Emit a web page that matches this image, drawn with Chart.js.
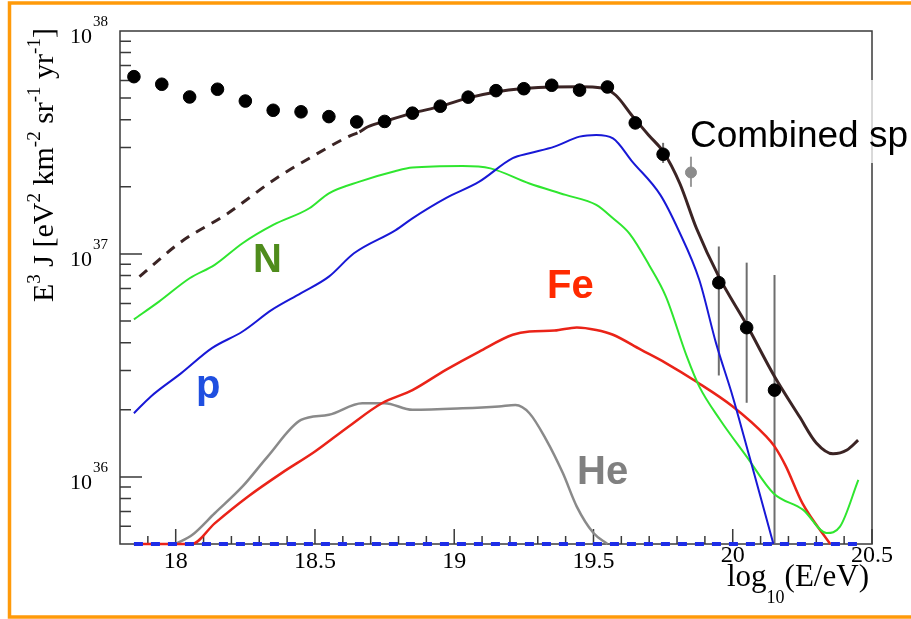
<!DOCTYPE html>
<html>
<head>
<meta charset="utf-8">
<script src="https://cdn.jsdelivr.net/npm/chart.js@4.4.1/dist/chart.umd.min.js"></script>
<style>
  html, body { margin: 0; padding: 0; background: #fff; }
  #wrap { width: 911px; height: 619px; position: relative; }
</style>
</head>
<body>
<div id="wrap"><canvas id="spectrumChart"></canvas></div>
<script>
// Auger data points (E^3 J)
const dotX = [17.85, 17.95, 18.05, 18.15, 18.25, 18.35, 18.45, 18.55, 18.65, 18.75,
              18.85, 18.95, 19.05, 19.15, 19.25, 19.35, 19.45, 19.55, 19.65, 19.75,
              19.95, 20.05, 20.15];
const dotY = [6.24e37, 5.77e37, 5.06e37, 5.48e37, 4.85e37, 4.41e37, 4.34e37, 4.13e37, 3.91e37, 3.93e37,
              4.28e37, 4.60e37, 5.05e37, 5.40e37, 5.51e37, 5.71e37, 5.43e37, 5.61e37, 3.87e37, 2.80e37,
              7.43e36, 4.67e36, 2.45e36];
// visible error bars
const errX  = [19.75, 19.95, 20.05, 20.15];
const errLo = [2.56e37, 2.85e36, 2.15e36, 1e35];
const errHi = [3.15e37, 1.08e37, 9.14e36, 8.05e36];
// grey point
const greyX = [19.85];
const greyY = [2.32e37];
const greyLo = [2.00e37];
const greyHi = [2.73e37];

// combined fit
const combX = [17.87, 18.02, 18.18, 18.36, 18.50, 18.62, 18.66, 18.69, 18.75, 18.85, 18.95, 19.05,
               19.15, 19.25, 19.35, 19.45, 19.53, 19.58, 19.64, 19.70, 19.75, 19.81, 19.87, 19.95,
               20.05, 20.15, 20.24, 20.30, 20.36, 20.41, 20.45];
const combY = [7.91e36, 1.135e37, 1.50e37, 2.18e37, 2.78e37, 3.36e37, 3.53e37, 3.72e37, 3.93e37, 4.28e37, 4.59e37, 5.01e37,
               5.33e37, 5.52e37, 5.61e37, 5.62e37, 5.55e37, 5.15e37, 4.15e37, 3.39e37, 2.88e37, 2.07e37, 1.30e37, 7.91e36,
               4.81e36, 2.82e36, 1.86e36, 1.42e36, 1.27e36, 1.32e36, 1.46e36];
const combDashEnd = 18.66;

// N
const nX = [17.85, 17.94, 18.05, 18.14, 18.24, 18.35, 18.48, 18.55, 18.66, 18.79, 18.85, 19.03, 19.13,
            19.27, 19.40, 19.51, 19.57, 19.63, 19.70, 19.76, 19.835, 19.88, 19.955, 20.05, 20.146,
            20.253, 20.337, 20.385, 20.451];
const nY = [5.09e36, 6.11e36, 7.78e36, 8.93e36, 1.117e37, 1.349e37, 1.603e37, 1.871e37, 2.11e37, 2.355e37, 2.44e37, 2.48e37, 2.42e37,
            2.07e37, 1.84e37, 1.66e37, 1.445e37, 1.23e37, 8.9e36, 6.44e36, 3.47e36, 2.54e36, 1.80e36, 1.233e36, 8.45e35,
            7.11e35, 5.60e35, 5.98e35, 9.70e35];

// p
const pX = [17.85, 17.91, 18.02, 18.13, 18.24, 18.345, 18.45, 18.55, 18.64, 18.79, 18.85, 18.97, 19.09,
            19.21, 19.27, 19.36, 19.45, 19.51, 19.57, 19.64, 19.74, 19.805, 19.88, 19.94, 20.00, 20.06, 20.146];
const pY = [1.93e36, 2.29e36, 2.92e36, 3.78e36, 4.49e36, 5.61e36, 6.67e36, 7.91e36, 1.007e37, 1.28e37, 1.445e37, 1.78e37, 2.11e37,
            2.69e37, 2.83e37, 3.03e37, 3.36e37, 3.42e37, 3.30e37, 2.59e37, 1.84e37, 1.28e37, 7.64e36, 3.98e36, 2.29e36, 1.233e36, 5.0e35];

// Fe
const feX = [17.85, 18.057, 18.14, 18.26, 18.38, 18.50, 18.62, 18.74, 18.85, 18.97, 19.09, 19.21, 19.27,
             19.36, 19.44, 19.51, 19.57, 19.67, 19.76, 19.87, 20.00, 20.12, 20.15, 20.19, 20.25, 20.35];
const feY = [5.0e35, 5.0e35, 6.19e35, 8.17e35, 1.04e36, 1.30e36, 1.68e36, 2.14e36, 2.45e36, 3.02e36, 3.65e36, 4.34e36, 4.49e36,
             4.53e36, 4.68e36, 4.56e36, 4.34e36, 3.72e36, 3.24e36, 2.67e36, 2.07e36, 1.52e36, 1.37e36, 1.12e36, 7.62e35, 5.0e35];

// He
const heX = [18.00, 18.06, 18.14, 18.24, 18.33, 18.45, 18.55, 18.67, 18.75, 18.85, 19.03, 19.16, 19.22,
             19.27, 19.33, 19.39, 19.44, 19.50, 19.55];
const heY = [5.0e35, 5.50e35, 6.87e35, 9.06e35, 1.233e36, 1.80e36, 1.90e36, 2.14e36, 2.14e36, 2.00e36, 2.03e36, 2.07e36, 2.10e36,
             1.93e36, 1.47e36, 1.04e36, 7.36e35, 5.60e35, 5.0e35];

// zero-level line
const floorX = [17.85, 20.45];
const floorY = [5.0e35, 5.0e35];

// axes
const xMin = 17.8, xMax = 20.5;
const yMin = 5e35, yMax = 1e38;
const xMajor = [18, 18.5, 19, 19.5, 20, 20.5];
const xMajorLabels = ['18', '18.5', '19', '19.5', '20', '20.5'];
const yMajorExp = [36, 37, 38];

const pts = (xs, ys) => xs.map((x, i) => ({ x: x, y: ys[i] }));

const SERIF = '"Liberation Serif", "DejaVu Serif", serif';
const SANS = '"Liberation Sans", Arial, sans-serif';

function drawParts(ctx, parts, x, y, size, supSize) {
    let cx = x;
    parts.forEach(p => {
        const s = p.sup || p.sub ? supSize : size;
        ctx.font = s + 'px ' + SERIF;
        const dy = p.sup ? -size * 0.42 : (p.sub ? size * 0.55 : 0);
        ctx.fillText(p.t, cx, y + dy);
        cx += ctx.measureText(p.t).width;
    });
    return cx - x;
}

const decorations = {
    id: 'decorations',
    beforeDraw(chart) {
        const ctx = chart.ctx;
        ctx.save();
        ctx.fillStyle = '#fff';
        ctx.fillRect(0, 0, chart.width, chart.height);
        ctx.restore();
    },
    beforeDatasetsDraw(chart) {
        const ctx = chart.ctx;
        const xs = chart.scales.x, ys = chart.scales.y;
        const a = chart.chartArea;
        ctx.save();

        // frame
        ctx.strokeStyle = '#3a3a3a';
        ctx.lineWidth = 1.5;
        ctx.strokeRect(a.left, a.top, a.right - a.left, a.bottom - a.top);

        // y ticks (inward)
        ctx.beginPath();
        for (let d = 35; d <= 37; d++) {
            for (let m = 1; m <= 9; m++) {
                const v = m * Math.pow(10, d);
                if (v < yMin || v > yMax) continue;
                const py = ys.getPixelForValue(v);
                const len = m === 1 ? 22 : 11;
                ctx.moveTo(a.left, py);
                ctx.lineTo(a.left + len, py);
            }
        }
        // x ticks
        for (let k = 179; k <= 205; k++) {
            const v = k / 10;
            if (v < xMin - 1e-9 || v > xMax + 1e-9) continue;
            const px = xs.getPixelForValue(v);
            const len = k % 5 === 0 ? 15 : 8;
            ctx.moveTo(px, a.bottom);
            ctx.lineTo(px, a.bottom - len);
        }
        ctx.stroke();

        // error bars
        ctx.beginPath();
        ctx.rect(a.left, a.top, a.right - a.left, a.bottom - a.top);
        ctx.clip();
        ctx.lineWidth = 2;
        ctx.strokeStyle = '#6e6e6e';
        errX.forEach((x, i) => {
            const px = xs.getPixelForValue(x);
            ctx.beginPath();
            ctx.moveTo(px, ys.getPixelForValue(errLo[i]));
            ctx.lineTo(px, ys.getPixelForValue(errHi[i]));
            ctx.stroke();
        });
        ctx.strokeStyle = '#9a9a9a';
        greyX.forEach((x, i) => {
            const px = xs.getPixelForValue(x);
            ctx.beginPath();
            ctx.moveTo(px, ys.getPixelForValue(greyLo[i]));
            ctx.lineTo(px, ys.getPixelForValue(greyHi[i]));
            ctx.stroke();
        });
        ctx.restore();
    },
    afterDatasetsDraw(chart) {
        const ctx = chart.ctx;
        const xs = chart.scales.x, ys = chart.scales.y;
        ctx.save();

        // y tick labels
        ctx.fillStyle = '#000';
        ctx.textBaseline = 'alphabetic';
        yMajorExp.forEach(e => {
            const py = ys.getPixelForValue(Math.pow(10, e));
            ctx.font = '22px ' + SERIF;
            ctx.textAlign = 'left';
            ctx.fillText('10', 70, py + 12);
            ctx.font = '15px ' + SERIF;
            ctx.fillText(String(e), 93, py - 5);
        });

        // x tick labels
        ctx.font = '24px ' + SERIF;
        ctx.textAlign = 'center';
        xMajor.forEach((v, i) => {
            const px = xs.getPixelForValue(v);
            const lift = v >= 20 ? 6 : 0;
            ctx.fillText(xMajorLabels[i], px, 568 - lift);
        });

        // x title
        ctx.textAlign = 'left';
        drawParts(ctx, [{ t: 'log' }, { t: '10', sub: true }, { t: '(E/eV)' }], 727, 586, 31, 18);

        // y title (rotated)
        ctx.save();
        ctx.translate(53, 302);
        ctx.rotate(-Math.PI / 2);
        drawParts(ctx, [
            { t: 'E' }, { t: '3', sup: true }, { t: ' J [eV' }, { t: '2', sup: true },
            { t: ' km' }, { t: '-2', sup: true }, { t: ' sr' }, { t: '-1', sup: true },
            { t: ' yr' }, { t: '-1', sup: true }, { t: ']' }
        ], 0, 0, 30, 19);
        ctx.restore();

        // species labels
        ctx.font = 'bold 40px ' + SANS;
        ctx.fillStyle = '#4f8c1c';
        ctx.fillText('N', 253, 272);
        ctx.fillStyle = '#1f4fe0';
        ctx.fillText('p', 196, 398);
        ctx.fillStyle = '#ff2a00';
        ctx.fillText('Fe', 547, 298);
        ctx.fillStyle = '#808080';
        ctx.fillText('He', 577, 484);

        // overlay text box
        ctx.fillStyle = 'rgba(255,255,255,0.75)';
        ctx.fillRect(864, 80, 47, 83);
        ctx.fillStyle = '#000';
        ctx.font = '37px ' + SANS;
        ctx.fillText('Combined sp', 690, 147);

        // orange border
        ctx.strokeStyle = '#ff9a0a';
        ctx.lineWidth = 3.5;
        ctx.strokeRect(9.5, 3, 940, 614);

        ctx.restore();
    }
};

const lineBase = {
    fill: false, pointRadius: 0, borderWidth: 2, showLine: true,
    cubicInterpolationMode: 'monotone',
    clip: { left: 0, top: 0, right: 0, bottom: 4 }
};

new Chart(document.getElementById('spectrumChart'), {
    type: 'scatter',
    data: {
        datasets: [
            {
                label: 'data',
                data: pts(dotX, dotY),
                backgroundColor: '#000',
                borderColor: '#000',
                pointRadius: 6.3,
                pointHoverRadius: 6.3,
                order: 0
            },
            {
                label: 'grey',
                data: pts(greyX, greyY),
                backgroundColor: '#8c8c8c',
                borderColor: '#8c8c8c',
                pointRadius: 5.5,
                order: 1
            },
            Object.assign({}, lineBase, {
                label: 'combined',
                data: pts(combX, combY),
                borderColor: '#3b2424',
                borderWidth: 3,
                segment: {
                    borderDash: c => c.p1.parsed.x <= combDashEnd ? [10, 8] : undefined
                },
                order: 2
            }),
            Object.assign({}, lineBase, {
                label: 'floor',
                data: pts(floorX, floorY),
                borderColor: '#1d2de8',
                borderWidth: 4,
                borderDash: [9, 8],
                order: 3
            }),
            Object.assign({}, lineBase, {
                label: 'p',
                data: pts(pX, pY),
                borderColor: '#1818d6',
                order: 4
            }),
            Object.assign({}, lineBase, {
                label: 'N',
                data: pts(nX, nY),
                borderColor: '#2fe62f',
                order: 5
            }),
            Object.assign({}, lineBase, {
                label: 'Fe',
                data: pts(feX, feY),
                borderColor: '#ea2318',
                borderWidth: 2.5,
                order: 6
            }),
            Object.assign({}, lineBase, {
                label: 'He',
                data: pts(heX, heY),
                borderColor: '#8a8a8a',
                borderWidth: 2.5,
                order: 7
            })
        ]
    },
    options: {
        responsive: true,
        maintainAspectRatio: false,
        animation: false,
        layout: { padding: { left: 120, right: 39, top: 31, bottom: 75 } },
        plugins: {
            legend: { display: false },
            tooltip: { enabled: false }
        },
        scales: {
            x: { type: 'linear', min: xMin, max: xMax, display: false },
            y: { type: 'logarithmic', min: yMin, max: yMax, display: false }
        }
    },
    plugins: [decorations]
});
</script>
</body>
</html>
